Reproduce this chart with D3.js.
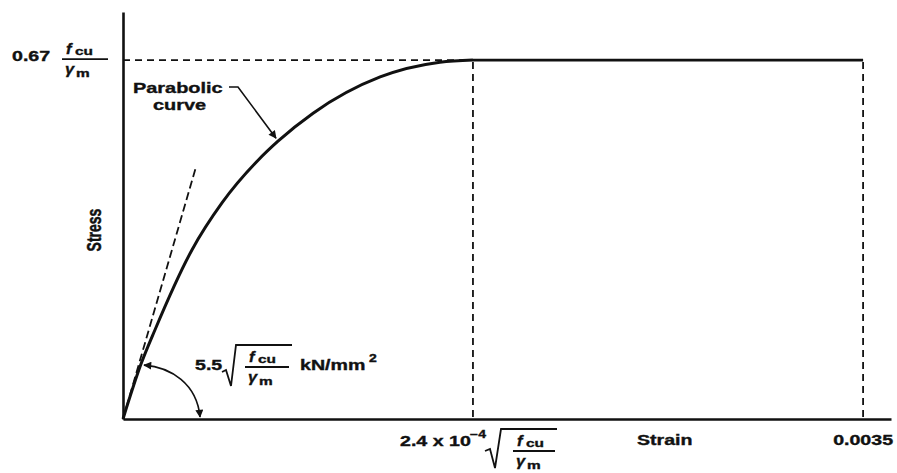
<!DOCTYPE html>
<html>
<head>
<meta charset="utf-8">
<script src="https://cdn.jsdelivr.net/npm/d3@7"></script>
<style>
  body { margin: 0; background: #fff; }
  svg text { font-family: "Liberation Sans", Arial, sans-serif; font-weight: bold; fill: #111; stroke: #111; stroke-width: 0.35; }
</style>
</head>
<body>
<svg id="chart" width="897" height="473"></svg>
<script>
// Stress (as fraction of 0.67 fcu/γm) against strain
const curveStrain = [0, 0.0000851, 0.000151, 0.000326, 0.000468, 0.000639, 0.000733,
                     0.000899, 0.001216, 0.001499, 0.001655];
const curveStress = [0, 0.153, 0.248, 0.471, 0.602, 0.721, 0.774,
                     0.852, 0.953, 0.994, 1.0];
const plateauStrain = [0.001655, 0.0035];
const plateauStress = [1, 1];
const tangentStrain = [0, 0.000345];
const tangentStress = [0, 0.702];
const peakStrain = 0.001655;
const ultStrain = 0.0035;
const peakStress = 1;

const svg = d3.select("#chart");
const ink = "#111";
const sx = 1.4; // the original lettering is wide

const x = d3.scaleLinear().domain([0, 0.003632]).range([123, 891]);
const y = d3.scaleLinear().domain([0, 1.134]).range([419, 12]);

// axes (lines only, labels are custom)
const xAxis = svg.append("g").attr("transform", `translate(0,${y(0)})`)
    .call(d3.axisBottom(x).tickValues([]).tickSizeOuter(0));
const yAxis = svg.append("g").attr("transform", `translate(${x(0)},0)`)
    .call(d3.axisLeft(y).tickValues([]).tickSizeOuter(0));
[xAxis, yAxis].forEach(a => a.select(".domain").attr("stroke", ink).attr("stroke-width", 2.6));

// dashed guides
svg.append("line")
    .attr("x1", x(0)).attr("x2", x(peakStrain))
    .attr("y1", y(peakStress)).attr("y2", y(peakStress))
    .attr("stroke", ink).attr("stroke-width", 1.8).attr("stroke-dasharray", "7,5");
[peakStrain, ultStrain].forEach(s => {
  svg.append("line")
      .attr("x1", x(s)).attr("x2", x(s))
      .attr("y1", y(peakStress) + 2).attr("y2", y(0))
      .attr("stroke", ink).attr("stroke-width", 1.8).attr("stroke-dasharray", "7,5");
});

// initial tangent
svg.append("line")
    .attr("x1", x(tangentStrain[0])).attr("y1", y(tangentStress[0]))
    .attr("x2", x(tangentStrain[1])).attr("y2", y(tangentStress[1]))
    .attr("stroke", ink).attr("stroke-width", 1.8).attr("stroke-dasharray", "8,4");

// parabolic curve + plateau
const curveData = curveStrain.map((s, i) => [s, curveStress[i]]);
const line = d3.line().x(d => x(d[0])).y(d => y(d[1])).curve(d3.curveMonotoneX);
svg.append("path").datum(curveData)
    .attr("d", line).attr("fill", "none").attr("stroke", ink).attr("stroke-width", 3);
svg.append("path").datum(plateauStrain.map((s, i) => [s, plateauStress[i]]))
    .attr("d", d3.line().x(d => x(d[0])).y(d => y(d[1])))
    .attr("fill", "none").attr("stroke", ink).attr("stroke-width", 2.6);

// arrow marker
svg.append("defs").append("marker")
    .attr("id", "arr").attr("viewBox", "0 0 10 10")
    .attr("refX", 9).attr("refY", 5)
    .attr("markerWidth", 6).attr("markerHeight", 5)
    .attr("markerUnits", "strokeWidth")
    .attr("orient", "auto-start-reverse")
    .append("path").attr("d", "M0,0 L10,5 L0,10 Z").attr("fill", ink);

// text helper: stretched horizontally like the original
function label(px, py, str, size, opts = {}) {
  const t = svg.append("text")
      .attr("transform", `translate(${px},${py}) scale(${opts.scale || sx},1)${opts.rotate ? " rotate(" + opts.rotate + ")" : ""}`)
      .style("font-size", size + "px")
      .text(str);
  if (opts.italic) t.style("font-style", "italic");
  if (opts.anchor) t.attr("text-anchor", opts.anchor);
  return t;
}
function draw(d, w) {
  svg.append("path").attr("d", d).attr("fill", "none")
      .attr("stroke", ink).attr("stroke-width", w || 1.8);
}
// fcu / γm fraction, left edge at fx, bar at fy
function fcuOverGm(fx, fy, w) {
  label(fx + 4, fy - 5, "f", 15, { italic: true, scale: 1.1 });
  label(fx + 13, fy - 4, "cu", 11);
  draw(`M${fx},${fy} H${fx + w}`);
  label(fx + 3, fy + 15, "γ", 15, { italic: true, scale: 1.1 });
  label(fx + 14, fy + 18, "m", 11);
}

// y value label
label(12, y(peakStress) + 1, "0.67", 14);
fcuOverGm(62, y(peakStress) - 1, 46);

// axis titles
label(101, 230, "Stress", 14, { rotate: -90, anchor: "middle" });
label(637, 445, "Strain", 14);
label(x(ultStrain), 445, "0.0035", 14, { anchor: "middle" });

// peak strain label
label(400, 446, "2.4 x 10", 14);
label(470, 438, "−4", 10);
draw("M485,451 L490,449 L495,468 L501,429 L557,429");
fcuOverGm(513, 451, 42);

// Parabolic curve label + leader
label(133, 93, "Parabolic", 15, { scale: 1.33 });
label(153, 110, "curve", 15, { scale: 1.33 });
const tip = curveData[6];
svg.append("path")
    .attr("d", `M229,87 H238 L${x(tip[0]) - 2},${y(tip[1]) - 3}`)
    .attr("fill", "none").attr("stroke", ink).attr("stroke-width", 1.6)
    .attr("marker-end", "url(#arr)");

// initial modulus label + angle arc
const a0 = curveData[1];
svg.append("path")
    .attr("d", `M${x(a0[0]) + 3},${y(a0[1]) + 1} C${x(a0[0]) + 30},${y(a0[1]) + 3} ${x(0) + 74},${y(0) - 35} ${x(0) + 77},${y(0) - 2}`)
    .attr("fill", "none").attr("stroke", ink).attr("stroke-width", 1.6)
    .attr("marker-start", "url(#arr)").attr("marker-end", "url(#arr)");
label(195, 370, "5.5", 14);
draw("M222,372 L226,370 L231,386 L236,345 L292,345");
fcuOverGm(245, 367, 44);
label(300, 370, "kN/mm", 14);
label(369, 362, "2", 10);
</script>
</body>
</html>
